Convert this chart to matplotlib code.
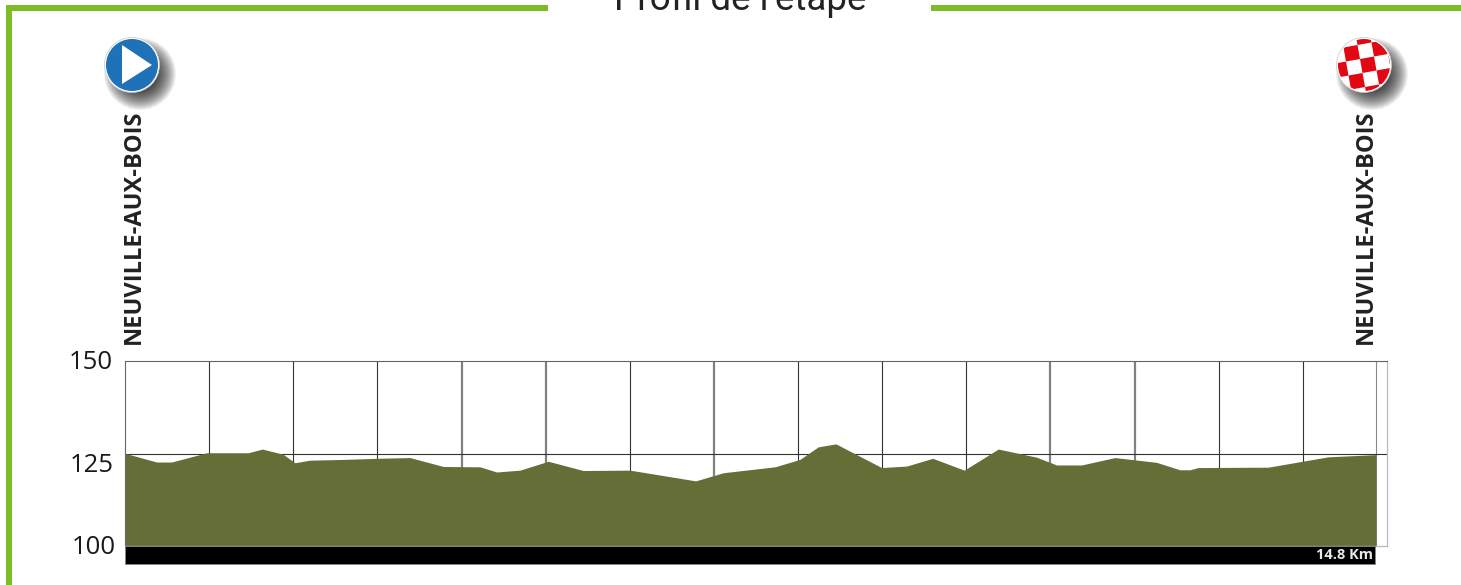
import matplotlib
matplotlib.use('Agg')
import matplotlib.pyplot as plt
from matplotlib.patches import Circle, Polygon, Rectangle

# stage profile
km = [0, 0.377, 0.555, 0.971, 1.465, 1.632, 1.878, 2.02, 2.199, 2.591, 2.991, 3.387,
      3.783, 4.219, 4.418, 4.694, 5.031, 5.447, 6.002, 6.783, 7.111, 7.725, 8.022,
      8.24, 8.45, 8.993, 9.29, 9.6, 9.975, 10.379, 10.835, 11.073, 11.37, 11.766,
      12.262, 12.539, 12.657, 12.756, 13.588, 14.301, 14.868]
altitude = [125.05, 122.7, 122.7, 125.2, 125.2, 126.2, 124.8, 122.5, 123.2, 123.4, 123.7, 123.9,
            121.5, 121.4, 120, 120.5, 122.9, 120.4, 120.5, 117.6, 119.8, 121.4, 123.4,
            126.8, 127.6, 121.2, 121.6, 123.7, 120.5, 126.2, 124, 121.9, 121.9, 123.9,
            122.6, 120.6, 120.6, 121.2, 121.3, 124.1, 124.7]
y_ticks = [100, 125, 150]
km_lines = list(range(1, 15))
dark_lines = [1, 2, 3, 6, 8, 9, 10, 13, 14]
town = 'NEUVILLE-AUX-BOIS'
title = "Profil de l'étape"
distance_label = '14.8 Km'

W, H = 1461, 585
GREEN = '#7fba27'
OLIVE = '#666e38'

fig = plt.figure(figsize=(W / 100, H / 100), dpi=100)

# pixel layer for the frame, title and icons
bg = fig.add_axes([0, 0, 1, 1])
bg.set_xlim(0, W)
bg.set_ylim(H, 0)
bg.axis('off')

bg.add_patch(Rectangle((6, 5), 542, 6, color=GREEN, lw=0))
bg.add_patch(Rectangle((931, 5), 530, 6, color=GREEN, lw=0))
bg.add_patch(Rectangle((6, 5), 6, 580, color=GREEN, lw=0))
bg.text(740, 10, title, family='Roboto', fontsize=26.5, color='#222222', ha='center', va='baseline')


def icon_base(cx, cy):
    # soft shadow, stacked see-through discs
    for r in range(36, 14, -1):
        bg.add_patch(Circle((cx + 8, cy + 9), r, color='black', alpha=0.055, lw=0))
    bg.add_patch(Circle((cx, cy), 27.5, color='white', ec='#c8c8c8', lw=0.5, zorder=3))


icon_base(132, 65)
bg.add_patch(Circle((132, 65), 26, color='#1f71b8', lw=0, zorder=4))
bg.add_patch(Polygon([(122, 45), (122, 84), (152, 65)], color='white', lw=0, zorder=5))

icon_base(1364, 65)
clip = Circle((1364, 65), 26, transform=bg.transData)
cell = 14
ux, uy = cell, -cell * 0.18
vx, vy = cell * 0.18, cell
for i in range(-3, 4):
    for j in range(-3, 4):
        if (i + j) % 2 == 0:
            px = 1360 + i * ux + j * vx
            py = 59 + i * uy + j * vy
            sq = Polygon([(px, py), (px + ux, py + uy), (px + ux + vx, py + uy + vy), (px + vx, py + vy)],
                         color='#e30613', lw=0, zorder=4)
            bg.add_patch(sq)
            sq.set_clip_path(clip)

for x in [133.5, 1365.5]:
    bg.text(x, 343.5, town, family='Open Sans', fontweight='bold', fontsize=17, color='#222222',
            rotation=90, ha='center', va='bottom')

# profile axes, 0-15 km and 100-150 m
ax = fig.add_axes([125 / W, 1 - 546 / H, (1387 - 125) / W, (546 - 361) / H])
ax.patch.set_alpha(0)
ax.set_xlim(0, 15)
ax.set_ylim(100, 150)
for s in ['top', 'left']:
    ax.spines[s].set_color('#666666')
    ax.spines[s].set_linewidth(0.8)
for s in ['right', 'bottom']:
    ax.spines[s].set_color('#bbbbbb')
    ax.spines[s].set_linewidth(0.9)

for k in km_lines:
    if k in dark_lines:
        ax.axvline(k, color='#333333', lw=0.8, zorder=1)
    else:
        ax.axvline(k, color='#808080', lw=1.6, zorder=1)
ax.axvline(km[-1], color='#888888', lw=0.8, zorder=1)
ax.axhline(125, color='#333333', lw=0.8, zorder=1)
ax.fill_between(km, 100, altitude, color=OLIVE, lw=0, zorder=2)

ax.add_patch(Rectangle((0, 95.1), km[-1] - 0.01, 4.9, facecolor='black', edgecolor='#888888', lw=0.6,
                       clip_on=False, zorder=3))
ax.text(14.83, 97.5, distance_label, family='Open Sans', fontweight='bold', fontsize=10.5, color='#e8e8e8',
        ha='right', va='center', zorder=4)

ax.set_xticks([])
ax.set_yticks(y_ticks)
ax.set_yticklabels([])
ax.tick_params(length=0)
# labels sit a bit off their levels in the original
label_y = {100: 100.3, 125: 122.5, 150: 150.3}
label_x = {100: -0.11, 125: -0.14, 150: -0.14}
for v in y_ticks:
    ax.text(label_x[v], label_y[v], str(v), family='Open Sans', fontsize=18.5, color='#1a1a1a',
            ha='right', va='center_baseline')

fig.savefig('out.png', dpi=100)
